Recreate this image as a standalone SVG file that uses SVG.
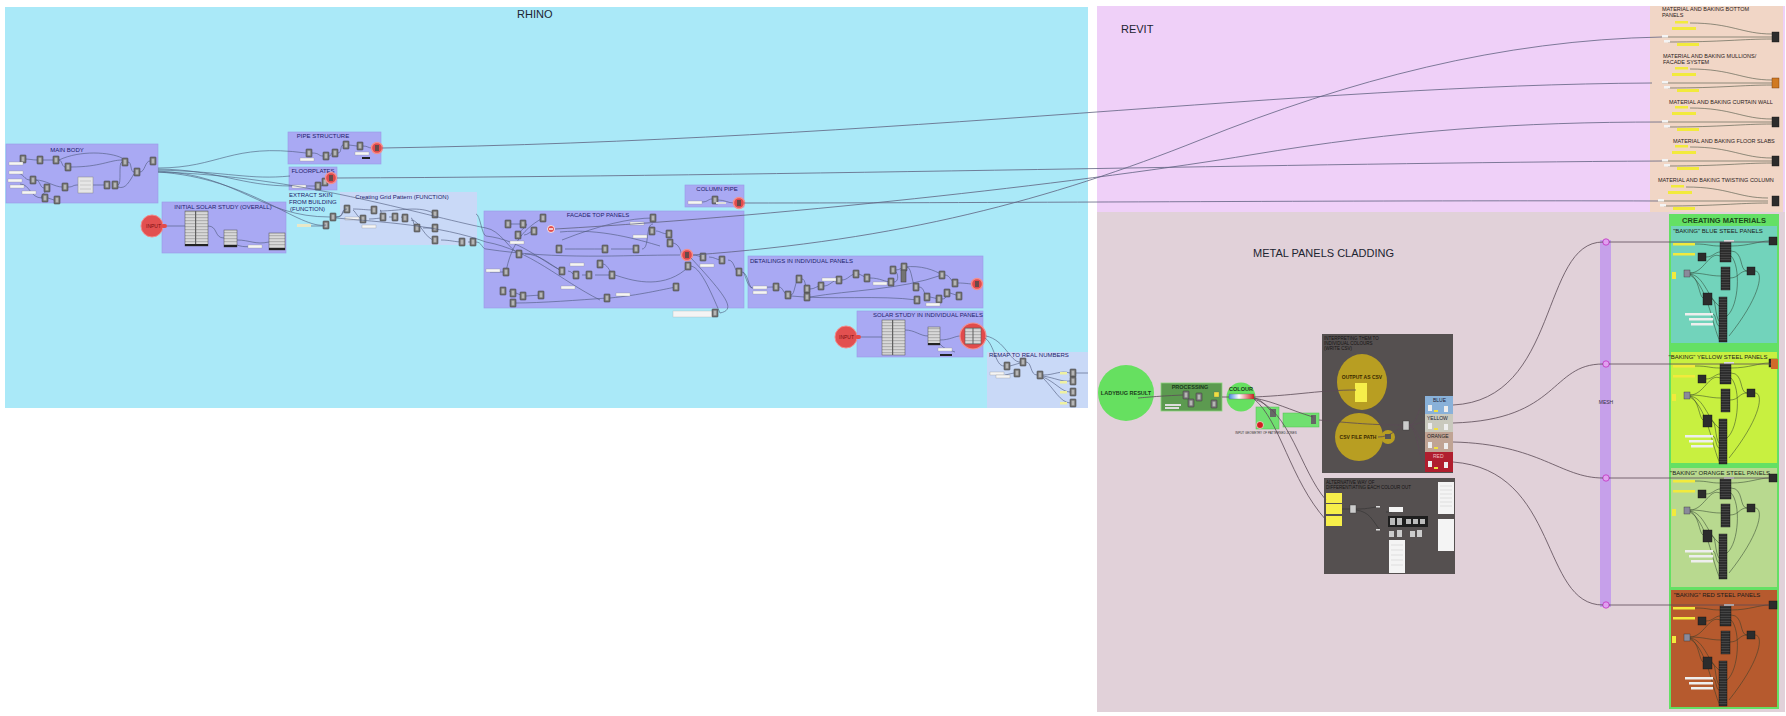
<svg xmlns="http://www.w3.org/2000/svg" width="1786" height="716" viewBox="0 0 1786 716">
<style>
text{font-family:"Liberation Sans",Arial,sans-serif}
.big{font-size:11px;fill:#1c2430}
.gt{font-size:6px;fill:#22226a;text-anchor:middle}
.gl{font-size:6px;fill:#22226a}
.grp{fill:#a9a9f3;stroke:#9a9ae8;stroke-width:0.6}
.lgrp{fill:#c9d9f7}
.w{fill:none;stroke:#4b5878;stroke-width:0.6}
.lw{fill:none;stroke:#5f6280;stroke-width:0.8}
.mw{fill:none;stroke:#5a4a55;stroke-width:0.8}
.bw{fill:none;stroke:#2a3a2a;stroke-width:0.5}
.dk{fill:#2c2c2c;stroke:#111;stroke-width:0.4}
.yb{fill:#f2ea3c}
.wp{fill:#f5f5f5;stroke:#8a8a8a;stroke-width:0.3}
.bt{font-size:6px;fill:#1a1a1a;text-anchor:middle}
.mt{font-size:5.5px;fill:#2a1a1a}
.tbl{fill:#d6d6d6;stroke:#505050;stroke-width:0.5}
.inp{fill:#e25050;stroke:#f28a8a;stroke-width:1}
.st{font-size:5px;fill:#7a1010}
.sw{font-size:5.5px;fill:#222;text-anchor:middle;font-weight:bold}
</style>
<defs>
<pattern id="rows" width="4" height="2.5" patternUnits="userSpaceOnUse"><rect width="4" height="2.5" fill="#2a2a2a"/><rect y="1" width="4" height="0.6" fill="#5c5c5c"/></pattern>
<pattern id="trows" width="4" height="3" patternUnits="userSpaceOnUse"><rect width="4" height="3" fill="#d8d8d8"/><rect y="1.5" width="4" height="0.6" fill="#8a8a8a"/></pattern>
<linearGradient id="grad" x1="0" x2="1"><stop offset="0" stop-color="#4a8ae0"/><stop offset="0.4" stop-color="#ffffff"/><stop offset="1" stop-color="#d02020"/></linearGradient>
<g id="c"><rect width="6" height="8" rx="0.8" fill="#737373" stroke="#3b3b3b" stroke-width="0.5"/><rect x="1.6" y="1.6" width="2.8" height="4.8" fill="#b5b5b5"/></g>
<g id="p"><rect width="14" height="3" class="wp"/></g>
<g id="r"><circle r="5.5" fill="#e24b4b" stroke="#f29090" stroke-width="1.4"/><rect x="-2" y="-3" width="4" height="6" fill="#6a4a4a"/></g>
<g id="bake">
 <path class="bw" d="M26,18 C40,18 40,20 51,20 M37,31 C44,31 46,26 51,26 M21,47 C35,47 40,25 51,30 M21,47 C35,47 40,50 52,50 M21,48 C35,50 38,70 50,80 M21,48 C30,52 30,70 34,72 M62,25 C75,25 70,45 78,45 M61,52 C70,52 70,45 78,45 M43,73 C47,73 46,90 50,95 M44,88 C47,88 47,100 50,100 M62,20 C80,20 90,15 100,15 M86,45 C95,45 92,70 60,110 M62,30 C72,40 70,80 58,90 M21,49 C40,60 45,110 52,116"/>
 <rect x="100" y="11" width="8" height="8" class="dk"/>
 <rect x="4" y="17" width="22" height="2.5" class="yb"/>
 <rect x="4" y="27" width="22" height="2.5" class="yb"/>
 <rect x="51" y="16" width="11" height="20" fill="url(#rows)" stroke="#111" stroke-width="0.4"/>
 <rect x="52" y="41" width="9" height="23" fill="url(#rows)" stroke="#111" stroke-width="0.4"/>
 <rect x="50" y="71" width="8" height="45" fill="url(#rows)" stroke="#111" stroke-width="0.4"/>
 <rect x="29" y="27" width="8" height="8" class="dk"/>
 <rect x="78" y="41" width="8" height="8" class="dk"/>
 <rect x="34" y="67" width="9" height="12" class="dk"/>
 <rect x="15" y="44" width="6" height="7" fill="#8a8a9a" stroke="#333" stroke-width="0.4"/>
 <rect x="3" y="46" width="4" height="7" class="yb"/>
 <rect x="16" y="87" width="28" height="2.5" fill="#eeeeee"/>
 <rect x="20" y="92" width="24" height="2.5" fill="#eeeeee"/>
 <rect x="22" y="97" width="22" height="2.5" fill="#eeeeee"/>
 <rect x="55" y="14" width="10" height="2" fill="#dddddd"/>
</g>
<g id="mat">
 <path class="bw" d="M0,0 L110,0 M28,-14 C70,-14 80,-3 110,-3 M6,5 C60,5 80,2 110,2"/>
 <rect x="13" y="-16" width="13" height="2.5" class="yb"/>
 <rect x="10" y="-10" width="24" height="3" class="yb"/>
 <rect x="15" y="6" width="22" height="3" class="yb"/>
 <rect x="0" y="-2" width="6" height="2.5" fill="#f4f4f4"/>
 <rect x="2" y="3" width="6" height="2.5" fill="#f4f4f4"/>
</g>
</defs>

<rect width="1786" height="716" fill="#ffffff"/>

<!-- RHINO background -->
<g id="rhino">
 <rect x="5" y="7" width="1083" height="401" fill="#aae9f8"/>
 <text x="517" y="18" class="big">RHINO</text>
</g>

<!-- REVIT background -->
<g id="revit">
 <rect x="1097" y="6" width="688" height="206" fill="#efd0f8"/>
 <text x="1121" y="33" class="big">REVIT</text>
</g>

<!-- METAL PANELS background -->
<g id="metal-panels">
 <rect x="1097" y="212" width="688" height="500" fill="#e1d1d9"/>
 <text x="1253" y="257" class="big">METAL PANELS CLADDING</text>
</g>

<!-- RHINO groups -->
<g id="main-body">
 <rect x="6" y="144" width="152" height="59" class="grp"/>
 <text x="67" y="152" class="gt">MAIN BODY</text>
 <path class="w" d="M24,159 C30,159 32,160 37,160 M43,160 L53,160 M59,160 C62,160 62,167 65,167 M16,173 C24,173 24,180 30,180 M36,180 C40,180 40,188 44,188 M36,180 C45,180 55,187 62,187 M48,188 C50,188 38,198 42,198 M48,198 L54,200 M68,187 C74,187 72,185 78,185 M93,185 C98,185 100,185 104,185 M118,185 C122,185 118,162 122,162 M128,162 C132,162 130,172 134,172 M140,172 C145,172 145,161 150,161 M71,167 C100,167 110,160 122,160 M59,160 C80,150 110,152 122,158 M20,184 C30,184 30,198 42,198 M118,187 C126,190 130,180 134,174"/>
 <use href="#c" x="20" y="155"/><use href="#c" x="37" y="156"/><use href="#c" x="53" y="156"/><use href="#c" x="65" y="163"/>
 <use href="#c" x="30" y="176"/><use href="#c" x="44" y="184"/><use href="#c" x="62" y="183"/><use href="#c" x="42" y="194"/>
 <use href="#c" x="54" y="196"/><use href="#c" x="104" y="181"/><use href="#c" x="112" y="181"/><use href="#c" x="122" y="158"/>
 <use href="#c" x="134" y="168"/><use href="#c" x="150" y="157"/>
 <use href="#p" x="9" y="162"/><use href="#p" x="9" y="171"/><use href="#p" x="8" y="179"/><use href="#p" x="10" y="185"/><use href="#p" x="22" y="191"/>
 <rect x="78" y="177" width="15" height="16" fill="#e6e6e6" stroke="#888" stroke-width="0.5"/>
 <path d="M80,181 L91,181 M80,185 L91,185 M80,189 L91,189" stroke="#aaa" stroke-width="0.5"/>
</g>

<g id="pipe-structure">
 <rect x="288" y="132" width="93" height="32" class="grp"/>
 <text x="323" y="138" class="gt">PIPE STRUCTURE</text>
 <path class="w" d="M312,153 C320,153 318,156 323,156 M329,156 C332,156 330,153 332,153 M338,153 C342,153 340,145 343,145 M349,145 L357,146 M363,146 C368,146 368,148 372,148"/>
 <use href="#c" x="343" y="141"/><use href="#c" x="357" y="142"/><use href="#c" x="306" y="149"/><use href="#c" x="323" y="152"/><use href="#c" x="332" y="149"/>
 <use href="#p" x="300" y="158"/><use href="#p" x="355" y="152"/>
 <rect x="362" y="157" width="8" height="2" fill="#222"/>
 <use href="#r" x="377" y="148"/>
</g>

<g id="floorplates">
 <rect x="289" y="167" width="48" height="23" class="grp"/>
 <text x="313" y="173" class="gt">FLOORPLATES</text>
 <path class="w" d="M305,186 C310,186 312,186 315,186 M321,186 C324,186 322,183 325,183"/>
 <use href="#c" x="315" y="182"/><use href="#c" x="322" y="178"/>
 <use href="#p" x="292" y="185"/>
 <use href="#r" x="331" y="178"/>
</g>

<g id="extract-skin">
 <text x="289" y="197" class="gl">EXTRACT SKIN</text>
 <text x="289" y="204" class="gl">FROM BUILDING</text>
 <text x="290" y="211" class="gl">(FUNCTION)</text>
 <path class="w" d="M307,226 L323,226"/>
 <use href="#c" x="330" y="213"/><use href="#c" x="323" y="221"/>
 <rect x="297" y="224" width="14" height="3" fill="#e8e8c8"/>
</g>

<g id="grid-pattern">
 <rect x="340" y="192" width="137" height="53" class="lgrp"/>
 <text x="402" y="199" class="gt">Creating Grid Pattern (FUNCTION)</text>
 <path class="w" d="M336,217 C345,217 342,209 347,209 M353,209 C362,209 365,210 374,210 M380,210 C382,210 380,217 383,217 M389,217 L395,217 M401,217 L405,218 M411,218 C414,218 413,228 417,228 M380,211 C400,211 420,205 435,214 M423,228 L435,228 M411,220 C420,220 425,240 435,240 M441,240 C450,240 455,242 462,242 M468,242 L473,242 M353,210 C356,212 358,219 363,219 M369,219 C375,219 378,218 383,218"/>
 <use href="#c" x="344" y="205"/><use href="#c" x="371" y="206"/><use href="#c" x="380" y="213"/><use href="#c" x="392" y="213"/>
 <use href="#c" x="402" y="214"/><use href="#c" x="414" y="224"/><use href="#c" x="432" y="210"/><use href="#c" x="432" y="224"/>
 <use href="#c" x="432" y="236"/><use href="#c" x="459" y="238"/><use href="#c" x="470" y="238"/><use href="#c" x="360" y="215"/>
 <use href="#p" x="362" y="225"/><use href="#p" x="345" y="217"/>
</g>

<g id="initial-solar">
 <rect x="162" y="202" width="124" height="51" class="grp"/>
 <text x="223" y="209" class="gt">INITIAL SOLAR STUDY (OVERALL)</text>
 <path class="w" d="M208,226 C218,226 214,238 224,238 M237,240 C250,240 255,245 269,242 M237,245 C245,248 250,246 258,246"/>
 <rect x="185" y="211" width="23" height="35" fill="url(#trows)" stroke="#505050" stroke-width="0.5"/>
 <rect x="195" y="211" width="1.2" height="35" fill="#606060"/>
 <rect x="185" y="244" width="23" height="2" fill="#222"/>
 <rect x="224" y="230" width="13" height="17" fill="url(#trows)" stroke="#505050" stroke-width="0.5"/>
 <rect x="224" y="245" width="13" height="2" fill="#222"/>
 <rect x="269" y="233" width="16" height="17" fill="url(#trows)" stroke="#505050" stroke-width="0.5"/>
 <rect x="269" y="248" width="16" height="2" fill="#222"/>
 <use href="#p" x="248" y="245"/>
</g>

<g id="input-1">
 <circle cx="152" cy="226" r="11" class="inp"/>
 <text x="146" y="228" class="st">INPUT</text>
 <rect x="161" y="224" width="6" height="4" rx="2" fill="#e24b4b"/>
</g>

<g id="column-pipe">
 <rect x="685" y="185" width="59" height="22" class="grp"/>
 <text x="717" y="191" class="gt">COLUMN PIPE</text>
 <path class="w" d="M702,202 C708,202 708,199 712,199 M718,200 C725,200 728,203 734,203"/>
 <use href="#p" x="688" y="201"/>
 <use href="#c" x="712" y="196"/>
 <rect x="716" y="202" width="10" height="2" fill="#ddd"/>
 <use href="#r" x="739" y="203"/>
</g>

<g id="facade-top-panels">
 <rect x="484" y="211" width="260" height="97" class="grp"/>
 <text x="598" y="217" class="gt">FACADE TOP PANELS</text>
 <path class="w" d="M511,224 L520,224 M526,224 C530,224 515,235 518,235 M524,235 C528,235 530,231 534,231 M486,228 C500,230 510,250 519,254 M525,254 C540,254 550,265 562,271 M565,249 C580,249 590,249 605,249 M611,249 L636,249 M642,249 C650,249 645,224 653,224 M656,231 C660,231 662,234 669,234 M672,243 C680,243 682,255 681,255 M568,271 C572,271 572,275 576,275 M582,275 L589,275 M595,275 L612,275 M603,264 C606,264 610,270 612,275 M490,272 C495,272 500,272 506,272 M509,291 L513,293 M516,293 L523,296 M526,296 L541,295 M516,303 C540,303 580,300 607,298 M610,298 C640,295 660,290 676,287 M693,255 C697,255 700,257 703,257 M709,257 C715,257 716,260 722,260 M728,260 C735,260 734,272 739,272 M690,266 C700,266 710,290 720,313 M543,218 C520,230 510,250 506,272 M486,236 C520,240 540,260 562,271 M486,242 C530,250 560,280 600,300 M562,240 C600,225 630,218 653,218 M560,232 C600,228 640,240 660,246 M615,275 C630,280 660,290 685,270 M486,249 C560,260 620,255 680,255"/>
 <use href="#c" x="505" y="220"/><use href="#c" x="520" y="220"/><use href="#c" x="515" y="231"/><use href="#c" x="531" y="227"/>
 <use href="#c" x="540" y="214"/><use href="#c" x="556" y="245"/><use href="#c" x="602" y="245"/><use href="#c" x="633" y="245"/>
 <use href="#c" x="650" y="214"/><use href="#c" x="649" y="227"/><use href="#c" x="666" y="230"/><use href="#c" x="667" y="239"/>
 <use href="#c" x="516" y="250"/><use href="#c" x="559" y="267"/><use href="#c" x="573" y="271"/><use href="#c" x="586" y="271"/>
 <use href="#c" x="609" y="271"/><use href="#c" x="597" y="260"/><use href="#c" x="503" y="268"/><use href="#c" x="500" y="287"/>
 <use href="#c" x="510" y="289"/><use href="#c" x="520" y="292"/><use href="#c" x="538" y="291"/><use href="#c" x="510" y="299"/>
 <use href="#c" x="604" y="294"/><use href="#c" x="673" y="283"/><use href="#c" x="700" y="253"/><use href="#c" x="719" y="256"/>
 <use href="#c" x="736" y="268"/><use href="#c" x="685" y="262"/>
 <use href="#p" x="510" y="241"/><use href="#p" x="570" y="263"/><use href="#p" x="561" y="286"/><use href="#p" x="616" y="293"/>
 <use href="#p" x="630" y="222"/><use href="#p" x="700" y="264"/><use href="#p" x="486" y="269"/><use href="#p" x="633" y="235"/>
 <circle cx="551" cy="229" r="3.5" fill="#e24b4b" stroke="#fff" stroke-width="0.8"/>
 <rect x="549" y="228.3" width="4" height="1.4" fill="#fff"/>
 <use href="#r" x="687" y="255"/>
</g>

<g id="sensing-grid">
 <rect x="673" y="311" width="40" height="6" fill="#f4f4f4" stroke="#aaa" stroke-width="0.3"/>
 <use href="#c" x="712" y="309"/>
</g>

<g id="detailings">
 <rect x="748" y="256" width="235" height="52" class="grp"/>
 <text x="750" y="263" class="gl">DETAILINGS IN INDIVIDUAL PANELS</text>
 <path class="w" d="M752,288 C760,288 765,287 773,287 M779,287 C783,287 784,295 788,295 M791,295 C795,295 795,279 799,279 M802,279 C806,279 805,289 807,289 M810,289 C815,289 816,286 821,286 M824,286 C830,286 832,280 839,280 M842,280 C848,280 850,274 856,274 M859,274 L867,278 M870,278 C880,278 885,282 891,282 M894,282 C900,282 898,270 893,270 M896,270 C900,270 902,267 904,267 M907,267 C912,267 912,287 916,287 M919,287 C925,287 924,297 927,297 M930,297 L939,299 M942,299 C948,299 945,293 947,293 M950,293 L959,296 M945,275 C950,275 952,283 955,283 M958,283 C965,283 970,284 972,284 M791,296 C830,300 880,295 917,300 M810,297 C850,290 900,290 942,275 M905,267 C920,265 935,270 942,275 M743,272 C748,275 748,285 752,288"/>
 <use href="#c" x="773" y="283"/><use href="#c" x="785" y="291"/><use href="#c" x="796" y="275"/><use href="#c" x="804" y="285"/>
 <use href="#c" x="804" y="293"/><use href="#c" x="818" y="282"/><use href="#c" x="836" y="276"/><use href="#c" x="853" y="270"/>
 <use href="#c" x="864" y="274"/><use href="#c" x="888" y="278"/><use href="#c" x="890" y="266"/><use href="#c" x="901" y="263"/>
 <use href="#c" x="913" y="283"/><use href="#c" x="914" y="296"/><use href="#c" x="924" y="293"/><use href="#c" x="936" y="295"/>
 <use href="#c" x="939" y="271"/><use href="#c" x="952" y="279"/><use href="#c" x="944" y="289"/><use href="#c" x="956" y="292"/>
 <rect x="901" y="270" width="5" height="12" fill="#737373" stroke="#3b3b3b" stroke-width="0.5"/>
 <use href="#p" x="753" y="286"/><use href="#p" x="753" y="291"/><use href="#p" x="822" y="278"/><use href="#p" x="873" y="282"/><use href="#p" x="926" y="303"/>
 <use href="#r" x="977" y="284"/>
</g>

<g id="solar-individual">
 <rect x="857" y="311" width="126" height="46" class="grp"/>
 <text x="928" y="317" class="gt">SOLAR STUDY IN INDIVIDUAL PANELS</text>
 <path class="w" d="M861,337 L882,337 M905,330 C915,330 920,336 928,336 M940,340 C950,340 955,336 960,336 M940,344 C945,350 950,350 955,352"/>
 <rect x="882" y="320" width="23" height="35" fill="url(#trows)" stroke="#505050" stroke-width="0.5"/>
 <rect x="892" y="320" width="1.2" height="35" fill="#606060"/>
 <rect x="928" y="327" width="12" height="18" fill="url(#trows)" stroke="#505050" stroke-width="0.5"/>
 <rect x="928" y="343" width="12" height="2" fill="#222"/>
 <use href="#p" x="938" y="348"/>
 <rect x="940" y="354" width="12" height="2" fill="#222"/>
 <circle cx="973" cy="336" r="13" fill="#e24b4b" stroke="#f29090" stroke-width="1.2"/>
 <rect x="965" y="328" width="16" height="16" fill="url(#trows)" stroke="#505050" stroke-width="0.5"/>
 <rect x="972.5" y="328" width="1" height="16" fill="#606060"/>
</g>

<g id="input-2">
 <circle cx="846" cy="337" r="11" class="inp"/>
 <text x="839" y="339" class="st">INPUT</text>
 <rect x="855" y="335" width="6" height="4" rx="2" fill="#e24b4b"/>
</g>

<g id="remap">
 <rect x="987" y="352" width="101" height="56" class="lgrp"/>
 <text x="989" y="357" class="gl">REMAP TO REAL NUMBERS</text>
 <path class="w" d="M985,338 C995,345 995,366 1004,366 M986,336 C1005,340 1010,362 1020,362 M1010,366 L1020,363 M1005,375 L1014,373 M1026,362 C1032,362 1030,375 1037,375 M1043,375 C1055,375 1060,370 1070,373 M1043,376 C1055,378 1062,382 1070,381 M1043,377 C1055,382 1062,392 1070,392 M1043,378 C1055,390 1060,402 1070,403 M1076,373 L1088,373"/>
 <use href="#c" x="1004" y="362"/><use href="#c" x="1020" y="358"/><use href="#c" x="1014" y="369"/><use href="#c" x="1037" y="371"/>
 <use href="#c" x="1070" y="369"/><use href="#c" x="1070" y="377"/><use href="#c" x="1070" y="388"/><use href="#c" x="1070" y="399"/>
 <use href="#p" x="990" y="372"/><use href="#p" x="996" y="375"/>
 <rect x="1060" y="372" width="7" height="2.5" fill="#eef0a0"/><rect x="1060" y="381" width="7" height="2.5" fill="#eef0a0"/>
 <rect x="1060" y="391" width="7" height="2.5" fill="#eef0a0"/><rect x="1060" y="402" width="7" height="2.5" fill="#eef0a0"/>
</g>

<!-- REVIT material column -->
<g id="revit-materials">
 <rect x="1650" y="6" width="133" height="206" fill="#f1d6c6"/>
 <text x="1662" y="11" class="mt">MATERIAL AND BAKING BOTTOM</text>
 <text x="1662" y="17" class="mt">PANELS</text>
 <use href="#mat" x="1662" y="37"/>
 <rect x="1772" y="32" width="7" height="10" class="dk"/>
 <text x="1663" y="58" class="mt">MATERIAL AND BAKING MULLIONS/</text>
 <text x="1663" y="64" class="mt">FACADE SYSTEM</text>
 <use href="#mat" x="1662" y="83"/>
 <rect x="1772" y="78" width="7" height="10" fill="#d07a22" stroke="#6a3000" stroke-width="0.4"/>
 <text x="1669" y="104" class="mt">MATERIAL AND BAKING CURTAIN WALL</text>
 <use href="#mat" x="1662" y="122"/>
 <rect x="1772" y="117" width="7" height="10" class="dk"/>
 <text x="1673" y="143" class="mt">MATERIAL AND BAKING FLOOR SLABS</text>
 <use href="#mat" x="1662" y="161"/>
 <rect x="1772" y="156" width="7" height="10" class="dk"/>
 <text x="1658" y="182" class="mt">MATERIAL AND BAKING TWISTING COLUMN</text>
 <use href="#mat" x="1658" y="201"/>
 <rect x="1772" y="196" width="7" height="10" class="dk"/>
</g>

<!-- Metal panels nodes -->
<g id="ladybug-result">
 <circle cx="1126" cy="393" r="28" fill="#66e060"/>
 <text x="1126" y="395" class="sw" style="fill:#1a3a1a">LADYBUG RESULT</text>
</g>

<g id="processing">
 <rect x="1161" y="383" width="61" height="28" fill="#5c9a50" stroke="#8ad87a" stroke-width="0.8"/>
 <text x="1190" y="389" class="sw" style="fill:#1a3a1a">PROCESSING</text>
 <use href="#c" x="1183" y="391"/><use href="#c" x="1196" y="393"/><use href="#c" x="1188" y="399"/><use href="#c" x="1211" y="400"/>
 <rect x="1214" y="392" width="5" height="5" fill="#f0e040" stroke="#666" stroke-width="0.3"/>
 <rect x="1165" y="404" width="16" height="2" fill="#ddd"/><rect x="1165" y="407" width="14" height="2" fill="#ddd"/>
</g>

<g id="colour">
 <circle cx="1241" cy="397" r="14.5" fill="#66e060"/>
 <text x="1241" y="391" class="sw" style="fill:#1a3a1a">COLOUR</text>
 <rect x="1229" y="394" width="25" height="5" fill="url(#grad)" stroke="#555" stroke-width="0.3"/>
</g>

<g id="geometry-zones">
 <rect x="1256" y="407" width="23" height="22" fill="#70e070" stroke="#50c050" stroke-width="0.5"/>
 <rect x="1270" y="409" width="6" height="8" fill="#666"/>
 <circle cx="1260" cy="425" r="3.5" fill="#d02020" stroke="#fff" stroke-width="0.6"/>
 <rect x="1283" y="413" width="36" height="14" fill="#70e070" stroke="#50c050" stroke-width="0.5"/>
 <rect x="1311" y="415" width="5" height="9" fill="#666"/>
 <text x="1266" y="434" style="font-size:3px;fill:#333;text-anchor:middle">INPUT GEOMETRY OF PATTERNED ZONES</text>
</g>

<g id="csv-box">
 <rect x="1322" y="334" width="131" height="139" fill="#555050"/>
 <text x="1324" y="340" style="font-size:4.5px;fill:#151515">INTERPRETING THEM TO</text>
 <text x="1324" y="345" style="font-size:4.5px;fill:#151515">INDIVIDUAL COLOURS</text>
 <text x="1324" y="350" style="font-size:4.5px;fill:#151515">(WRITE CSV)</text>
 <ellipse cx="1362" cy="382" rx="25" ry="28" fill="#b89e22"/>
 <text x="1362" y="379" class="sw" style="font-size:5px;fill:#3a2a00">OUTPUT AS CSV</text>
 <rect x="1355" y="383" width="12" height="19" fill="#f6ee4a"/>
 <ellipse cx="1359" cy="437" rx="24" ry="24" fill="#b89e22"/>
 <circle cx="1388" cy="437" r="7" fill="#b89e22"/>
 <text x="1358" y="439" class="sw" style="font-size:5px;fill:#3a2a00">CSV FILE PATH</text>
 <rect x="1385" y="434" width="6" height="5" fill="#555"/>
 <rect x="1403" y="421" width="6" height="9" fill="#ccc" stroke="#333" stroke-width="0.4"/>
</g>

<g id="swatches">
 <rect x="1425" y="396" width="28" height="18" fill="#89b1d9"/>
 <text x="1433" y="402" style="font-size:5px;fill:#223">BLUE</text>
 <rect x="1428" y="405" width="4" height="6" fill="#eee"/><rect x="1444" y="406" width="4" height="6" fill="#eee"/><rect x="1434" y="410" width="4" height="2" fill="#f0e040"/>
 <rect x="1425" y="414" width="28" height="18" fill="#c9c9bd"/>
 <text x="1427" y="420" style="font-size:5px;fill:#223">YELLOW</text>
 <rect x="1428" y="423" width="4" height="6" fill="#eee"/><rect x="1444" y="424" width="4" height="6" fill="#eee"/><rect x="1434" y="428" width="4" height="2" fill="#f0e040"/>
 <rect x="1425" y="432" width="28" height="20" fill="#c0a494"/>
 <text x="1427" y="438" style="font-size:5px;fill:#222">ORANGE</text>
 <rect x="1428" y="442" width="4" height="6" fill="#eee"/><rect x="1444" y="443" width="4" height="6" fill="#eee"/><rect x="1434" y="447" width="4" height="2" fill="#f0e040"/>
 <rect x="1425" y="452" width="28" height="20" fill="#b01e2e"/>
 <text x="1433" y="458" style="font-size:5px;fill:#f0c0c0">RED</text>
 <rect x="1428" y="461" width="4" height="6" fill="#eee"/><rect x="1444" y="462" width="4" height="6" fill="#eee"/><rect x="1434" y="467" width="4" height="2" fill="#f0e040"/>
</g>

<g id="alt-box">
 <rect x="1324" y="478" width="131" height="96" fill="#555050"/>
 <text x="1326" y="484" style="font-size:4.5px;fill:#151515">ALTERNATIVE WAY OF</text>
 <text x="1326" y="489" style="font-size:4.5px;fill:#151515">DIFFERENTIATING EACH COLOUR OUT</text>
 <rect x="1326" y="493" width="16" height="10" fill="#f6ee4a"/>
 <rect x="1326" y="504" width="16" height="10" fill="#f6ee4a"/>
 <rect x="1326" y="516" width="16" height="10" fill="#f6ee4a"/>
 <path class="w" style="stroke:#333" d="M1342,509 L1350,509 M1356,509 C1370,509 1372,507 1378,507 M1356,510 C1370,512 1372,520 1380,530 M1386,512 L1392,512"/>
 <rect x="1350" y="505" width="6" height="8" fill="#ccc" stroke="#333" stroke-width="0.4"/>
 <rect x="1376" y="506" width="4" height="1.5" fill="#ddd"/><rect x="1376" y="529" width="4" height="1.5" fill="#ddd"/>
 <rect x="1389" y="507" width="14" height="5" fill="#f4f4f4"/>
 <rect x="1388" y="516" width="40" height="11" fill="#1e1e1e"/>
 <rect x="1390" y="518" width="5" height="7" fill="#bbb"/><rect x="1397" y="518" width="5" height="7" fill="#bbb"/><rect x="1406" y="519" width="5" height="5" fill="#bbb"/><rect x="1413" y="519" width="5" height="5" fill="#bbb"/><rect x="1420" y="519" width="5" height="5" fill="#bbb"/>
 <rect x="1389" y="531" width="5" height="6" fill="#ccc"/><rect x="1397" y="530" width="5" height="7" fill="#ccc"/><rect x="1410" y="531" width="5" height="6" fill="#ccc"/><rect x="1417" y="530" width="5" height="7" fill="#ccc"/>
 <rect x="1389" y="540" width="16" height="33" fill="#f4f4f4"/>
 <rect x="1438" y="482" width="16" height="32" fill="#f4f4f4"/>
 <rect x="1438" y="519" width="16" height="32" fill="#f4f4f4"/>
 <path d="M1440,486 L1452,486 M1440,490 L1452,490 M1440,494 L1452,494 M1440,498 L1452,498 M1440,502 L1452,502 M1440,506 L1452,506 M1391,545 L1403,545 M1391,550 L1403,550 M1391,555 L1403,555 M1391,560 L1403,560 M1391,565 L1403,565" stroke="#bbb" stroke-width="0.4"/>
</g>

<g id="mesh">
 <rect x="1600" y="240" width="11" height="367" fill="#c6a0ea"/>
 <text x="1606" y="404" style="font-size:5px;fill:#334;text-anchor:middle">MESH</text>
 <circle cx="1606" cy="242" r="3.2" fill="#e0a0f0" stroke="#c030c0" stroke-width="0.8"/>
 <circle cx="1606" cy="364" r="3.2" fill="#e0a0f0" stroke="#c030c0" stroke-width="0.8"/>
 <circle cx="1606" cy="478" r="3.2" fill="#e0a0f0" stroke="#c030c0" stroke-width="0.8"/>
 <circle cx="1606" cy="605" r="3.2" fill="#e0a0f0" stroke="#c030c0" stroke-width="0.8"/>
</g>

<g id="creating-materials">
 <rect x="1669" y="214" width="110" height="495" fill="#64e064"/>
 <text x="1724" y="223" class="bt" style="font-size:7.5px;font-weight:bold;fill:#1a4a1a">CREATING MATERIALS</text>
</g>
<g id="blue-panels">
 <rect x="1671" y="226" width="106" height="117" fill="#72d3bb"/>
 <text x="1718" y="233" class="bt">"BAKING" BLUE STEEL PANELS</text>
 <use href="#bake" x="1669" y="226"/>
</g>
<g id="yellow-panels">
 <rect x="1671" y="352" width="106" height="111" fill="#c8f040"/>
 <text x="1718" y="359" class="bt">"BAKING" YELLOW STEEL PANELS</text>
 <use href="#bake" x="1669" y="348"/>
 <rect x="1771" y="359" width="7" height="10" fill="#d06a2a"/>
</g>
<g id="orange-panels">
 <rect x="1671" y="468" width="106" height="119" fill="#b8d98f"/>
 <text x="1720" y="475" class="bt">"BAKING" ORANGE STEEL PANELS</text>
 <use href="#bake" x="1669" y="463"/>
</g>
<g id="red-panels">
 <rect x="1671" y="590" width="106" height="117" fill="#b65a2e"/>
 <text x="1717" y="597" class="bt">"BAKING" RED STEEL PANELS</text>
 <use href="#bake" x="1669" y="590"/>
</g>

<!-- connectors -->
<g id="connectors">
 <path class="w" d="M158,168 C220,168 230,143 306,153 M158,169 C220,170 240,186 292,186 M158,170 C230,172 250,180 290,176 M158,171 C240,175 260,217 330,217 M158,172 C300,176 420,215 486,228 M158,172 C250,178 300,230 326,225 M167,226 L185,226"/>
 <path class="w" d="M336,217 C345,217 340,209 347,209 M476,242 C482,242 482,249 486,249 M476,214 C480,214 482,236 486,236 M336,218 C380,222 440,225 486,242"/>
 <path class="w" d="M742,272 C746,272 746,286 752,288 M691,258 C730,300 735,310 720,313"/>
 <path class="lw" d="M382,148 C900,140 1300,85 1652,83"/>
 <path class="lw" d="M337,178 C800,176 1300,163 1662,161"/>
 <path class="lw" d="M744,203 C1000,203 1400,200 1658,201"/>
 <path class="lw" d="M555,229 C800,215 1100,180 1250,155 S 1520,122 1662,122"/>
 <path class="lw" d="M693,255 C900,240 1050,200 1200,140 S 1500,40 1662,37"/>
 <path class="mw" d="M1138,398 C1150,397 1160,396 1183,395 M1222,397 L1229,397"/>
 <path class="mw" d="M1254,397 C1300,395 1320,390 1356,390 M1254,398 C1262,400 1265,405 1270,410 M1254,398 C1275,402 1290,410 1313,417 M1319,420 C1360,424 1380,425 1403,425 M1254,399 C1290,410 1300,470 1326,500 M1254,399 C1280,420 1290,480 1326,520 M1409,425 C1418,425 1418,404 1425,404 M1409,425 C1418,425 1418,422 1425,422 M1409,426 C1418,426 1418,442 1425,442 M1409,426 C1418,426 1418,462 1425,462 M1378,437 C1390,437 1395,430 1403,427"/>
 <path class="mw" d="M1453,405 C1560,400 1540,242 1603,242 M1453,423 C1560,420 1550,364 1603,364 M1453,442 C1540,444 1560,478 1603,478 M1453,462 C1560,470 1540,605 1603,605"/>
 <path class="mw" d="M1609,242 L1769,242 M1609,364 L1771,364 M1609,478 L1769,478 M1609,605 L1769,605"/>
</g>
</svg>
